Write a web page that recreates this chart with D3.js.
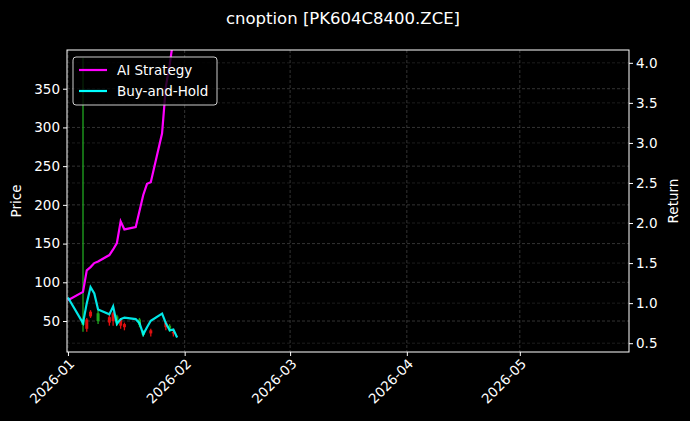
<!DOCTYPE html><html><head><meta charset="utf-8">
<script src="https://cdn.jsdelivr.net/npm/d3@7"></script>
<style>body{margin:0;background:#000}svg text{font-family:"DejaVu Sans",sans-serif}</style></head><body>
<script>
const dates=["2026-01-01","2026-01-05","2026-01-06","2026-01-07","2026-01-08","2026-01-09","2026-01-12","2026-01-13","2026-01-14","2026-01-15","2026-01-16","2026-01-19","2026-01-20","2026-01-21","2026-01-22","2026-01-23","2026-01-26","2026-01-27","2026-01-28","2026-01-29","2026-01-30"];
const aiReturn=[1.035,1.14,1.41,1.45,1.50,1.52,1.60,1.67,1.75,2.02,1.92,1.95,2.15,2.35,2.49,2.51,3.12,3.70,3.97,4.3,4.6];
const bhReturn=[1.07,0.75,1.0,1.20,1.12,0.92,0.86,0.96,0.74,0.80,0.82,0.80,0.75,0.61,0.70,0.78,0.87,0.75,0.66,0.67,0.57];
const candleDates=["2026-01-05","2026-01-06","2026-01-07","2026-01-09","2026-01-12","2026-01-13","2026-01-14","2026-01-15","2026-01-16","2026-01-20","2026-01-21","2026-01-23","2026-01-27","2026-01-28","2026-01-29"];
const cOpen=[45,52,62,50,55,60,48,52,46,45,32,38,48,40,36];
const cClose=[52,40,56,60,48,50,56,44,42,52,36,34,42,44,34];
const cHigh=[390,54,64,64,58,62,58,54,48,54,38,40,50,46,38];
const cLow=[36,36,54,46,44,44,44,40,38,42,30,30,38,36,30];
const priceTicks=[50,100,150,200,250,300,350];
const returnTicks=[0.5,1.0,1.5,2.0,2.5,3.0,3.5,4.0];
const monthTicks=["2026-01-01","2026-02-01","2026-03-01","2026-04-01","2026-05-01"];

const W=690,H=421,m={l:67,r:61,t:50,b:69};
const pd=d3.timeParse("%Y-%m-%d");
const svg=d3.select("body").append("svg").attr("width",W).attr("height",H).style("background","#000");
const x=d3.scaleTime().domain([new Date(2025,11,31,18),new Date(2026,4,30)]).range([m.l,W-m.r]);
const yP=d3.scaleLinear().domain([10,400]).range([H-m.b,m.t]);
const yR=d3.scaleLinear().domain([0.39,4.16]).range([H-m.b,m.t]);
const g=svg.append("g");
g.selectAll(".gx").data(monthTicks).join("line").attr("x1",d=>x(pd(d))).attr("x2",d=>x(pd(d))).attr("y1",m.t).attr("y2",H-m.b).attr("stroke","#555").attr("stroke-dasharray","3,2").attr("stroke-width",0.6);
g.selectAll(".gy").data(priceTicks).join("line").attr("x1",m.l).attr("x2",W-m.r).attr("y1",d=>yP(d)).attr("y2",d=>yP(d)).attr("stroke","#555").attr("stroke-dasharray","3,2").attr("stroke-width",0.6);
g.selectAll(".gr").data(returnTicks).join("line").attr("x1",m.l).attr("x2",W-m.r).attr("y1",d=>yR(d)).attr("y2",d=>yR(d)).attr("stroke","#3a3a3a").attr("stroke-dasharray","3,2").attr("stroke-width",0.5);
svg.append("clipPath").attr("id","c").append("rect").attr("x",m.l).attr("y",m.t).attr("width",W-m.l-m.r).attr("height",H-m.t-m.b);
const plot=svg.append("g").attr("clip-path","url(#c)");
const cd=candleDates.map((d,i)=>({d:pd(d),o:cOpen[i],c:cClose[i],h:cHigh[i],l:cLow[i]}));
plot.selectAll(".w").data(cd).join("line").attr("x1",d=>x(d.d)).attr("x2",d=>x(d.d)).attr("y1",d=>yP(d.h)).attr("y2",d=>yP(d.l)).attr("stroke",d=>d.c>=d.o?"#1fa81f":"#e01010").attr("stroke-width",1.3);
plot.selectAll(".b").data(cd).join("rect").attr("x",d=>x(d.d)-1.5).attr("width",3).attr("y",d=>yP(Math.max(d.o,d.c))).attr("height",d=>Math.abs(yP(d.o)-yP(d.c))).attr("fill",d=>d.c>=d.o?"#1fa81f":"#e01010");
const line=v=>d3.line().x((d,i)=>x(pd(dates[i]))).y(d=>yR(d))(v);
plot.append("path").attr("d",line(aiReturn)).attr("fill","none").attr("stroke","#ff00ff").attr("stroke-width",2.2);
plot.append("path").attr("d",line(bhReturn)).attr("fill","none").attr("stroke","#00ffff").attr("stroke-width",2.2).attr("opacity",0.9);
svg.append("rect").attr("x",m.l).attr("y",m.t).attr("width",W-m.l-m.r).attr("height",H-m.t-m.b).attr("fill","none").attr("stroke","#fff").attr("stroke-width",1);
const axL=svg.append("g").attr("transform",`translate(${m.l},0)`).call(d3.axisLeft(yP).tickValues(priceTicks).tickSize(4));
const axR=svg.append("g").attr("transform",`translate(${W-m.r},0)`).call(d3.axisRight(yR).tickValues(returnTicks).tickFormat(d3.format(".1f")).tickSize(4));
const axB=svg.append("g").attr("transform",`translate(0,${H-m.b})`).call(d3.axisBottom(x).tickValues(monthTicks.map(pd)).tickFormat(d3.timeFormat("%Y-%m")).tickSize(4));
[axL,axR,axB].forEach(a=>{a.select(".domain").remove();a.selectAll("line").attr("stroke","#fff");a.selectAll("text").attr("fill","#fff").style("font-size","13.5px");});
axB.selectAll("text").attr("text-anchor","end").attr("transform","rotate(-45)").attr("dx","-0.3em").attr("dy","0.5em");
svg.append("text").attr("x",W/2-2).attr("y",24).attr("text-anchor","middle").attr("fill","#fff").style("font-size","16.5px").text("cnoption [PK604C8400.ZCE]");
svg.append("text").attr("transform",`translate(21,${(m.t+H-m.b)/2}) rotate(-90)`).attr("text-anchor","middle").attr("fill","#fff").style("font-size","13.5px").text("Price");
svg.append("text").attr("transform",`translate(678,${(m.t+H-m.b)/2}) rotate(-90)`).attr("text-anchor","middle").attr("fill","#fff").style("font-size","13.5px").text("Return");
const lg=svg.append("g").attr("transform","translate(73,57)");
lg.append("rect").attr("width",144).attr("height",48).attr("rx",3).attr("fill","#000").attr("fill-opacity",0.8).attr("stroke","#ccc");
[["AI Strategy","#ff00ff"],["Buy-and-Hold","#00ffff"]].forEach((s,i)=>{
 lg.append("line").attr("x1",6).attr("x2",34).attr("y1",13+i*21).attr("y2",13+i*21).attr("stroke",s[1]).attr("stroke-width",2.2);
 lg.append("text").attr("x",44).attr("y",17.5+i*21).attr("fill","#fff").style("font-size","13.5px").text(s[0]);
});
</script></body></html>
